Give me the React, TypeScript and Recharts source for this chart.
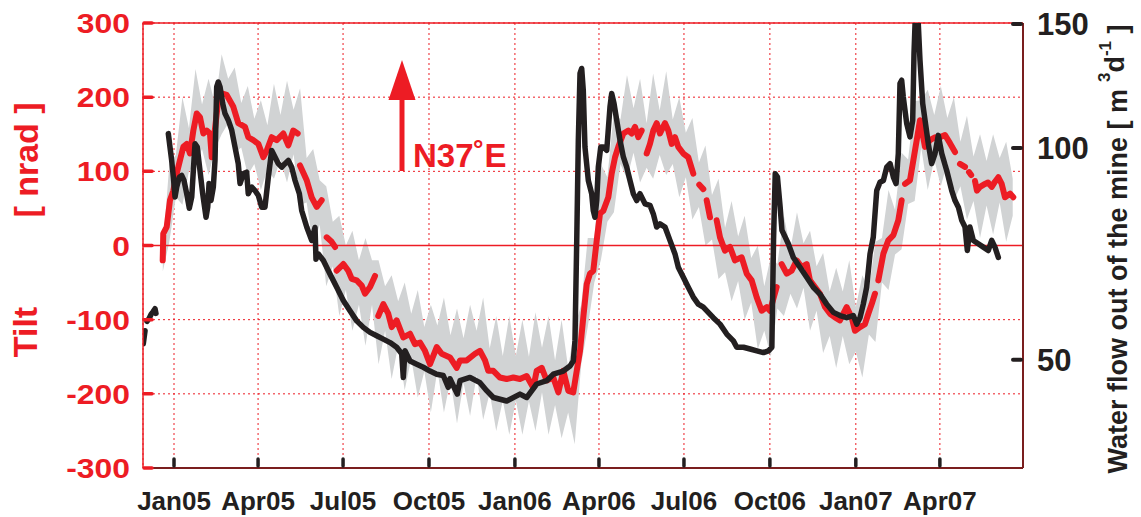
import { ComposedChart, Line, Area, XAxis, YAxis, CartesianGrid, ReferenceLine } from "recharts"

// x axis is days since 1 Jan 2005
const monthDays = [0, 90, 181, 273, 365, 455, 546, 638, 730, 820]
const monthLabels = ["Jan05", "Apr05", "Jul05", "Oct05", "Jan06", "Apr06", "Jul06", "Oct06", "Jan07", "Apr07"]
const tiltTicks = [-300, -200, -100, 0, 100, 200, 300]
const flowTicks = [50, 100, 150]

// raw tilt (grey band, tidal envelope)
const bandDays = [-12, -5, 2, 9, 16, 23, 30, 37, 44, 51, 58, 65, 72, 79, 86, 93, 100, 107, 114, 121, 128, 135, 142, 149, 156, 163, 170, 177, 184, 191, 198, 205, 212, 219, 226, 233, 240, 247, 254, 261, 268, 275, 282, 289, 296, 303, 310, 317, 324, 331, 338, 345, 352, 359, 366, 373, 380, 387, 394, 401, 408, 415, 422, 429, 436, 443, 450, 457, 464, 471, 478, 485, 492, 499, 506, 513, 520, 527, 534, 541, 548, 555, 562, 569, 576, 583, 590, 597, 604, 611, 618, 625, 632, 639, 646, 653, 660, 667, 674, 681, 688, 695, 702, 709, 716, 723, 730, 737, 744, 751, 758, 765, 772, 779, 786, 793, 800, 807, 814, 821, 828, 835, 842, 849, 856, 863, 870, 877, 884, 891, 898]
const bandLow = [-35, 5, 65, 55, 100, 110, 130, 95, 130, 150, 165, 125, 132, 95, 110, 75, 102, 90, 116, 85, 123, 55, 58, 0, 28, -55, -28, -95, -60, -115, -80, -135, -80, -160, -115, -180, -135, -195, -152, -205, -170, -225, -168, -225, -181, -240, -185, -230, -175, -235, -199, -250, -209, -255, -209, -255, -210, -250, -198, -255, -215, -260, -225, -268, -160, -110, -50, -20, 32, 45, 110, 90, 125, 85, 105, 90, 122, 95, 110, 65, 92, 35, 52, 0, 8, -45, -36, -75, -48, -100, -77, -140, -115, -150, -85, -95, -65, -85, -57, -115, -88, -145, -122, -165, -122, -160, -143, -178, -120, -130, -50, -60, -12, -5, 56, 60, 132, 75, 116, 80, 112, 60, 80, 35, 60, 10, 54, 15, 58, 5, 40]
const bandHigh = [-5, 110, 122, 200, 158, 238, 190, 225, 190, 258, 225, 240, 192, 215, 171, 196, 162, 218, 176, 222, 183, 212, 118, 130, 88, 80, 32, 40, 0, 20, -20, 10, -20, -20, -55, -40, -75, -50, -92, -60, -110, -80, -108, -70, -121, -85, -125, -80, -115, -70, -139, -95, -149, -95, -149, -100, -150, -90, -138, -95, -155, -100, -165, -110, -80, 10, 10, 110, 92, 180, 170, 230, 185, 225, 165, 232, 182, 235, 170, 200, 152, 172, 112, 135, 68, 90, 24, 60, 12, 40, -17, 0, -55, -15, -25, 40, -5, 45, 3, 20, -28, -10, -62, -30, -62, -20, -83, -40, -60, 5, 10, 75, 48, 125, 116, 195, 196, 210, 176, 215, 172, 200, 140, 175, 120, 150, 114, 150, 118, 140, 90]

// filtered tilt N37E (red), null = data gap
const tiltDays = [-12.1, -11.5, -7.8, -4.3, -0.7, 2.9, 6.4, 10, 13.6, 17.1, 20.7, 24.3, 27.8, 31.4, 35, 38.5, 40.4, 47.4, 51.1, 56.4, 63.5, 68.8, 76, 79.5, 84.9, 90.3, 95.6, 99.3, 104.6, 110, 117, 122.4, 127.7, 132.4, 133.6, 134.9, 142.1, 147.4, 152.8, 158.1, 161, 163.5, 168.8, 172.4, 173.3, 174.2, 181.3, 186.6, 190.3, 195.6, 201, 204.5, 209.9, 215.2, 217, 218.7, 224.1, 229.4, 233.1, 238.4, 245.5, 252.7, 258, 263.4, 268.7, 274.1, 281.3, 286.6, 295.5, 302.7, 306.2, 313.4, 322.3, 327.6, 333, 336.5, 341.9, 349, 356.2, 363.3, 370.4, 377.6, 384.7, 388.3, 393.7, 399, 406.1, 411.5, 416.8, 422.2, 427.5, 431.2, 434.7, 438.2, 441.9, 445.4, 448.9, 452.6, 456.1, 459.7, 465, 468.6, 472.2, 475.7, 481.1, 486.4, 490, 493.6, 497.1, 500.7, 503.5, 506.1, 509.6, 513.2, 516.8, 520.3, 525.7, 529.2, 532.9, 536.4, 539.9, 545.3, 550.6, 556, 559, 562.4, 566.7, 568.5, 570.3, 573.9, 577.5, 581, 584.6, 589.9, 595.3, 600.6, 607.8, 613.2, 618.5, 623.9, 629.2, 634.6, 638.1, 641, 645.3, 648, 650.6, 656, 661.3, 666.7, 672, 677.4, 680.9, 686.3, 691.6, 697, 702.4, 707.7, 713, 720.2, 725.6, 729.1, 734.5, 739.8, 743.4, 747, 750.5, 752.3, 754.1, 759.5, 764.8, 770.2, 775.5, 779.1, 781, 782.7, 788, 791.6, 795.2, 798.7, 804.1, 809.4, 814.8, 820.1, 825.5, 830.8, 836.2, 839, 841.5, 846.9, 849.5, 851.2, 853.5, 855.5, 857.6, 859.7, 863, 868.3, 871.5, 875.5, 879, 882.6, 886.2, 889.7, 895.1, 898.6]
const tiltValues = [-20, 16, 25, 61, 74, 97, 115, 133, 137, 124, 155, 178, 173, 151, 155, 151, 119, 196, 205, 203, 187, 165, 160, 146, 142, 137, 119, 128, 146, 142, 151, 135, 155, 151, null, 108, 88, 65, 52, 61, null, 11, 5, -2, null, -34, -25, -34, -45, -47, -54, -65, -56, -41, null, -95, -79, -92, -110, -101, -124, -119, -133, -131, -142, -160, -137, -146, -151, -165, -155, -155, -146, -142, -155, -169, -169, -178, -180, -178, -180, -176, -192, -169, -165, -182, -178, -198, -169, -196, -198, -169, -142, -97, -52, -38, -34, 7, 43, 47, 65, 97, 119, 133, 151, 155, 151, 160, 146, 155, null, 124, 137, 155, 165, 151, 165, 155, 137, 146, 133, 124, 119, 97, null, 82, 76, null, 61, 38, null, 34, 11, -7, -2, -20, -16, -38, -47, -70, -88, -83, -88, -75, -56, null, -25, -38, -34, -20, -29, -25, -47, -56, -65, -83, -92, -97, -101, -83, -97, -115, -110, -106, -92, -79, -65, null, -47, -11, 7, 14, 34, 61, null, 83, 88, 115, 142, 169, 133, 142, 146, 146, 149, 138, 126, null, 110, 106, null, 99, 95, null, 87, 74, 79, 83, 85, 79, 86, 92, 83, 65, 70, 65]

// water flow out of the mine (black), null = data gap
const flowDays = [-32.9, -31, -30, -28.9, -26.8, -24.6, -22.5, -20.3, -19.3, -10, -6.1, -4.3, -2.5, -0.7, 1.1, 2.9, 5.7, 8.2, 10.7, 13.6, 16.4, 19, 20.7, 22.5, 24.9, 27.8, 30.7, 34.3, 36.1, 37.5, 39.6, 42.1, 43.9, 45.7, 47.4, 49.3, 52.1, 54.6, 58.1, 61.8, 65.3, 68.8, 70.7, 74.2, 77.8, 79.5, 83.2, 86.7, 90.3, 93.9, 97.4, 101, 104.6, 108.1, 111.7, 115.3, 118.8, 122.4, 126, 129.6, 134.2, 136.7, 142.1, 147.4, 151, 152, 154.5, 159.9, 167, 174.2, 181.3, 188.4, 195.6, 202.7, 209.9, 217, 224.1, 231.3, 238.4, 243.8, 245.5, 247.3, 252.7, 259.9, 266.9, 274.1, 281.3, 288.3, 293.7, 295.5, 303.3, 306.2, 316.9, 327.6, 334.8, 341.9, 356.2, 370.4, 377.6, 388.3, 399, 406.1, 416.8, 424, 427.5, 429.3, 431.2, 432.9, 434.7, 436.5, 438.2, 440, 443.6, 447.2, 448.9, 450.7, 452.6, 454.3, 456.9, 459.7, 463.3, 466.8, 468.6, 471.1, 474, 477.5, 481.1, 484.7, 488.2, 491.8, 495.4, 498.9, 504.3, 509.6, 513.2, 516.8, 520.3, 525.7, 531, 536.4, 539.9, 545.3, 550.6, 556, 561.3, 566.7, 572, 577.4, 584.6, 591.8, 598.9, 602.5, 609.7, 616.8, 624, 631.1, 636.5, 640.1, 641.9, 643.7, 646.1, 649, 650.9, 654.4, 657.7, 663.1, 670.2, 677.4, 684.5, 691.6, 698.8, 706, 713, 720.2, 727.3, 730.9, 734.5, 738, 741.6, 745.2, 748.7, 752.4, 755.9, 759.5, 763.1, 766.7, 770.2, 773.1, 775.5, 777.3, 779.1, 780.8, 784.5, 788, 790.9, 792.3, 793.4, 796.9, 798.7, 801.6, 804.1, 807.6, 811.2, 814.8, 818.3, 822, 827.3, 832.7, 836.2, 839.8, 843.4, 846.9, 849.4, 852.2, 855.8, 861.1, 866.5, 871.8, 875.5, 879, 882.6]
const flowValues = [52.7, 55, null, 56.7, 57.2, 58, 58.5, 59.1, 58.2, null, 104.8, 100.3, 96, 90.9, 85.2, 88, 90.9, 91.4, 89.9, 86.1, 82.1, 85.2, 92.9, 101.4, 100.3, 92.9, 86.1, 79.7, 82.4, 89, 84.2, 88, 96, 122.1, 124.1, 122.1, 115.7, 111.9, 109.5, 106, 100.3, 95, 89, 91.9, 92.4, 86.1, 88, 87, 85.6, 82.4, 82.4, 90.9, 99.2, 97.1, 95, 93.9, 95, 96, 93.9, 89.9, 86.1, 81.5, 77.2, 73.9, 77.1, 69.5, 70.7, 69.2, 66.2, 63.4, 60.7, 58.7, 56.8, 55.6, 54.7, 54.1, 53.5, 52.9, 52.1, 51, 47.2, 51.5, 49.8, 49.3, 48.8, 48.2, 47.7, 47.5, 45.7, 47, 44.7, 46.7, 47.2, 46.4, 45.2, 44.2, 43.7, 44.7, 44.2, 46.2, 46.7, 47.7, 48.2, 49, 49.8, 53.2, 73.9, 102.6, 127.6, 129.7, 120.8, 100.3, 89.9, 86.1, 81.5, 79.7, 84.2, 93.9, 100.3, 100.3, 99.2, 114.4, 119.5, 115.7, 109.5, 102.6, 97.1, 93.9, 89.9, 86.1, 84.2, 86.1, 83.3, 82.9, 80.6, 77.2, 78, 77.2, 73.9, 70.7, 67.7, 65.5, 63.4, 61.4, 60, 59.4, 58.4, 57.4, 56.2, 54.4, 53.2, 52.1, 52.1, 51.8, 51.5, 51.2, 51.5, 52.1, 73.9, 91.9, 90.9, 82.4, 76.4, 74.7, 73.1, 69.9, 67.7, 65.5, 63.4, 62, 60, 58.4, 57.8, 57.4, 57.8, 56.2, 57.4, 60, 63.4, 70.7, 74.7, 87, 89.4, 89.9, 93.9, 95, 90.9, 89, 98.2, 123.5, 124.8, 118.2, 108.3, 103.7, 109.5, 136.3, 150, 150, 133.3, 115.7, 109.5, 101.4, 95, 98.2, 104.2, 98.2, 92.9, 87, 84.2, 82.4, 78.9, 77.2, 71.5, 77.2, 73.9, 73.1, 72.3, 71.5, 73.9, 72.3, 69.9]

const bandData = bandDays.map((day, i) => ({ day, range: [bandLow[i], bandHigh[i]] }))
const tiltData = tiltDays.map((day, i) => ({ day, tilt: tiltValues[i] }))
const flowData = flowDays.map((day, i) => ({ day, flow: flowValues[i] }))

const RED = "#ed1c24"
const BLACK = "#231f20"
const GREY = "#d1d3d4"
const DARK = "#7a1e1e"
const FONT = "'Liberation Sans', Arial, Helvetica, sans-serif"

const MonthTick = (props: any) => {
  const { x, y, payload } = props
  const label = monthLabels[monthDays.indexOf(payload.value)]
  return (
    <g>
      <line x1={x} x2={x} y1={y - 9} y2={y - 2} stroke={BLACK} strokeWidth={3.5} strokeLinecap="round" />
      <text x={x} y={y + 42} textAnchor="middle" fill={BLACK} fontSize={26} fontWeight="bold" fontFamily={FONT}>
        {label}
      </text>
    </g>
  )
}

const TiltTick = (props: any) => {
  const { x, y, payload } = props
  return (
    <g>
      <line x1={x + 1} x2={x + 9} y1={y} y2={y} stroke={RED} strokeWidth={3.5} strokeLinecap="round" />
      <text
        transform={`translate(${x - 13},${y + 10}) scale(1.18,1)`}
        textAnchor="end"
        fill={RED}
        fontSize={27}
        fontWeight="bold"
        fontFamily={FONT}
      >
        {payload.value}
      </text>
    </g>
  )
}

const FlowTick = (props: any) => {
  const { x, y, payload } = props
  return (
    <g>
      <line x1={x - 10} x2={x - 2} y1={y} y2={y} stroke={BLACK} strokeWidth={4} strokeLinecap="round" />
      <text x={x + 14} y={y + 11} textAnchor="start" fill={BLACK} fontSize={31} fontWeight="bold" fontFamily={FONT}>
        {payload.value}
      </text>
    </g>
  )
}

export default function App() {
  return (
    <div style={{ position: "absolute", left: 0, top: 0, width: 1141, height: 517, background: "#fff" }}>
      <ComposedChart width={1141} height={517} margin={{ top: 23, right: 0, bottom: 0, left: 0 }}>
        <CartesianGrid yAxisId="tilt" stroke={RED} strokeDasharray="2 3" strokeWidth={1} />
        <XAxis
          type="number"
          dataKey="day"
          domain={[-33.2, 909]}
          allowDataOverflow
          ticks={monthDays}
          interval={0}
          height={49}
          axisLine={{ stroke: DARK, strokeWidth: 2 }}
          tickLine={false}
          tickSize={0}
          tickMargin={0}
          tick={<MonthTick />}
        />
        <YAxis
          yAxisId="tilt"
          orientation="left"
          width={143}
          domain={[-300, 300]}
          ticks={tiltTicks}
          interval={0}
          axisLine={{ stroke: RED, strokeWidth: 1.5 }}
          tickLine={false}
          tickSize={0}
          tickMargin={0}
          tick={<TiltTick />}
        />
        <YAxis
          yAxisId="flow"
          orientation="right"
          width={118}
          scale="log"
          domain={[35.1, 150.5]}
          allowDataOverflow
          ticks={flowTicks}
          interval={0}
          axisLine={{ stroke: DARK, strokeWidth: 2 }}
          tickLine={false}
          tickSize={0}
          tickMargin={0}
          tick={<FlowTick />}
        />
        <ReferenceLine yAxisId="tilt" y={300} stroke={RED} strokeWidth={1.5} />
        <Area
          yAxisId="tilt"
          data={bandData}
          dataKey="range"
          type="linear"
          stroke="none"
          fill={GREY}
          fillOpacity={1}
          isAnimationActive={false}
        />
        <ReferenceLine yAxisId="tilt" y={0} stroke={RED} strokeWidth={1.3} strokeOpacity={1} />
        <Line
          yAxisId="tilt"
          data={tiltData}
          dataKey="tilt"
          type="linear"
          stroke={RED}
          strokeWidth={6}
          strokeLinecap="round"
          strokeLinejoin="round"
          dot={false}
          connectNulls={false}
          isAnimationActive={false}
        />
        <Line
          yAxisId="flow"
          data={flowData}
          dataKey="flow"
          type="linear"
          stroke={BLACK}
          strokeWidth={5.5}
          strokeLinecap="round"
          strokeLinejoin="round"
          dot={false}
          connectNulls={false}
          isAnimationActive={false}
        />
      </ComposedChart>
      <svg
        width={1141}
        height={517}
        style={{ position: "absolute", left: 0, top: 0, pointerEvents: "none" }}
        fontFamily={FONT}
        fontWeight="bold"
      >
        <text transform="translate(37,332) rotate(-90)" textAnchor="middle" fill={RED} fontSize={34}>
          Tilt
        </text>
        <text transform="translate(38,160) rotate(-90)" textAnchor="middle" fill={RED} fontSize={34}>
          [ nrad ]
        </text>
        <line x1={402} x2={402} y1={171} y2={96} stroke={RED} strokeWidth={5} />
        <polygon points="402,60 388.5,100 415.5,100" fill={RED} />
        <text x={413} y={167} fill={RED} fontSize={33}>
          N37˚E
        </text>
        <text transform="translate(1127,249) rotate(-90)" textAnchor="middle" fill={BLACK} fontSize={27}>
          Water flow out of the mine [ m
          <tspan fontSize={17} dx={7} dy={-17}>3</tspan>
          <tspan dy={14}>d</tspan>
          <tspan fontSize={17} dy={-13}>-1</tspan>
          <tspan dy={16}> ]</tspan>
        </text>
      </svg>
    </div>
  )
}
